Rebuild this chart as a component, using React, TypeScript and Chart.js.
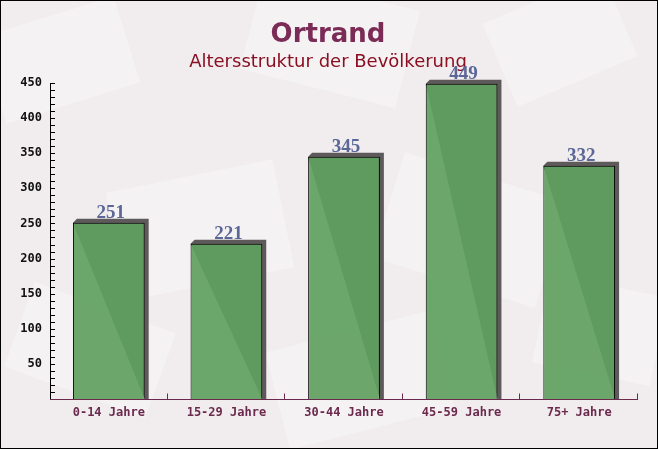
import React, { useEffect, useRef } from "react";
import { Chart, registerables } from "chart.js";

Chart.register(...registerables);

const categories = ["0-14 Jahre", "15-29 Jahre", "30-44 Jahre", "45-59 Jahre", "75+ Jahre"];
const values = [251, 221, 345, 449, 332];
const yTicks = [50, 100, 150, 200, 250, 300, 350, 400, 450];
const titleText = "Ortrand";
const subtitleText = "Altersstruktur der Bevölkerung";

const W = 658;
const H = 449;

const decorPlugin = {
  id: "decor",
  beforeDraw(chart: any) {
    const ctx = chart.ctx;
    ctx.save();
    ctx.fillStyle = "#f1edee";
    ctx.fillRect(0, 0, W, H);
    const shapes = [
      [60, 60, 140, 90, -0.3], [330, 40, 160, 100, 0.25], [560, 40, 130, 90, -0.4],
      [200, 230, 170, 110, -0.2], [470, 230, 170, 110, 0.3], [90, 350, 150, 90, 0.35],
      [360, 380, 170, 100, -0.25], [600, 330, 120, 90, 0.2],
    ];
    ctx.fillStyle = "rgba(255,255,255,0.3)";
    for (const [x, y, w, h, a] of shapes) {
      ctx.save();
      ctx.translate(x, y);
      ctx.rotate(a);
      ctx.fillRect(-w / 2, -h / 2, w, h);
      ctx.restore();
    }
    ctx.strokeStyle = "#000";
    ctx.lineWidth = 1;
    ctx.strokeRect(0.5, 0.5, W - 1, H - 1);
    ctx.textAlign = "center";
    ctx.textBaseline = "alphabetic";
    ctx.fillStyle = "#7a2b56";
    ctx.font = "bold 26px 'DejaVu Sans'";
    ctx.fillText(titleText, 328, 42);
    ctx.fillStyle = "#8a0f22";
    ctx.font = "18px 'DejaVu Sans'";
    ctx.fillText(subtitleText, 328, 67);
    ctx.restore();
  },
  beforeDatasetsDraw(chart: any) {
    const ctx = chart.ctx;
    const meta = chart.getDatasetMeta(0);
    ctx.save();
    ctx.fillStyle = "#5e5a5c";
    for (const bar of meta.data) {
      const p = bar.getProps(["x", "y", "base", "width"], true);
      const l = p.x - p.width / 2;
      const r = p.x + p.width / 2;
      const d = 4;
      ctx.beginPath();
      ctx.moveTo(l, p.y);
      ctx.lineTo(l + d, p.y - d);
      ctx.lineTo(r + d, p.y - d);
      ctx.lineTo(r + d, p.base);
      ctx.lineTo(r, p.base);
      ctx.closePath();
      ctx.fill();
    }
    ctx.restore();
  },
  afterDraw(chart: any) {
    const ctx = chart.ctx;
    const meta = chart.getDatasetMeta(0);
    const ya = chart.scales.y;
    const area = chart.chartArea;
    ctx.save();
    ctx.textAlign = "center";
    ctx.textBaseline = "alphabetic";
    ctx.fillStyle = "#5a6797";
    ctx.font = "bold 19px 'Liberation Serif'";
    meta.data.forEach((bar: any, i: number) => {
      const p = bar.getProps(["x", "y"], true);
      ctx.fillText(String(values[i]), p.x + 2, p.y - 5);
    });
    ctx.strokeStyle = "#000";
    ctx.lineWidth = 1;
    ctx.beginPath();
    ctx.moveTo(area.left + 0.5, area.top);
    ctx.lineTo(area.left + 0.5, area.bottom);
    for (let v = 10; v <= ya.max; v += 10) {
      const y = Math.round(ya.getPixelForValue(v)) + 0.5;
      ctx.moveTo(area.left, y);
      ctx.lineTo(area.left + 5, y);
    }
    ctx.stroke();
    ctx.strokeStyle = "#6b2a4d";
    ctx.beginPath();
    const yb = area.bottom + 0.5;
    ctx.moveTo(area.left, yb);
    ctx.lineTo(area.right, yb);
    const n = categories.length;
    for (let k = 1; k <= n; k++) {
      const x = Math.round(area.left + ((area.right - area.left) * k) / n) - 0.5;
      ctx.moveTo(x, yb);
      ctx.lineTo(x, yb - 6);
    }
    ctx.stroke();
    ctx.restore();
  },
};

export default function App() {
  const ref = useRef<HTMLCanvasElement | null>(null);
  useEffect(() => {
    document.body.style.margin = "0";
    if (!ref.current) return;
    const chart = new Chart(ref.current, {
      type: "bar",
      data: {
        labels: categories,
        datasets: [
          {
            data: values,
            backgroundColor: "rgba(96,160,96,0.92)",
            borderColor: "#000",
            borderWidth: 1,
            barPercentage: 0.61,
            categoryPercentage: 1,
          },
        ],
      },
      options: {
        animation: false,
        responsive: false,
        maintainAspectRatio: false,
        layout: { padding: { left: 0, right: 20, top: 83, bottom: 0 } },
        plugins: {
          legend: { display: false },
          title: { display: false },
          tooltip: { enabled: false },
        },
        scales: {
          x: {
            grid: { display: false, drawTicks: false },
            border: { display: false },
            ticks: {
              color: "#6b2a4d",
              font: { family: "'DejaVu Sans Mono'", size: 12, weight: "bold" },
              padding: 7,
              maxRotation: 0,
            },
            afterFit(scale: any) {
              scale.height = 50;
            },
          },
          y: {
            min: 0,
            max: 450,
            grid: { display: false, drawTicks: false },
            border: { display: false },
            afterBuildTicks(scale: any) {
              scale.ticks = yTicks.map((v) => ({ value: v }));
            },
            ticks: {
              color: "#111",
              font: { family: "'DejaVu Sans Mono'", size: 12, weight: "bold" },
              padding: 8,
            },
            afterFit(scale: any) {
              scale.width = 50;
            },
          },
        },
      },
      plugins: [decorPlugin],
    });
    return () => chart.destroy();
  }, []);
  return <canvas ref={ref} width={W} height={H} style={{ display: "block" }} />;
}
